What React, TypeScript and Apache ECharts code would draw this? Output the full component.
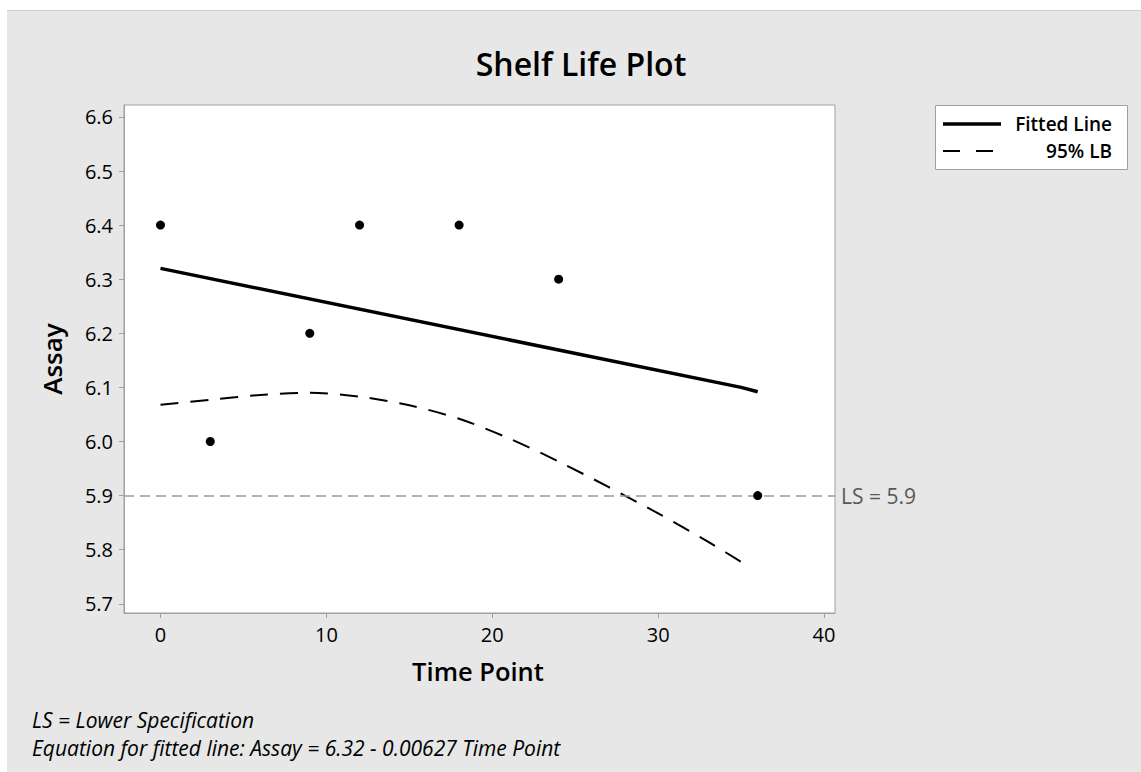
import React, { useEffect, useRef } from "react";
import * as echarts from "echarts";

const timePoints = [0, 3, 9, 12, 18, 24, 36];
const assayValues = [6.4, 6.0, 6.2, 6.4, 6.4, 6.3, 5.9];

const fitTime = [0, 35, 36];
const fitAssay = [6.32, 6.1, 6.092];

const lbTime = [0, 3, 6, 9, 12, 15, 18, 21, 24, 27, 30, 33, 35.5];
const lbAssay = [6.068, 6.077, 6.086, 6.09, 6.083, 6.067, 6.042, 6.006, 5.963, 5.916, 5.867, 5.815, 5.768];

const lowerSpec = 5.9;

const xTicks = [0, 10, 20, 30, 40];
const yTicks = [5.7, 5.8, 5.9, 6.0, 6.1, 6.2, 6.3, 6.4, 6.5, 6.6];

const FONT = "'Open Sans', 'Noto Sans', sans-serif";

export default function App() {
  const ref = useRef<HTMLDivElement>(null);

  useEffect(() => {
    if (!ref.current) return;
    const chart = echarts.init(ref.current, null, { renderer: "svg" });
    const axisGray = "#a0a0a0";
    chart.setOption({
      animation: false,
      backgroundColor: "#e6e7e6",
      textStyle: { fontFamily: FONT },
      grid: {
        left: 117,
        top: 94,
        width: 711,
        height: 508,
        show: true,
        backgroundColor: "#ffffff",
        borderColor: axisGray,
        borderWidth: 1,
      },
      xAxis: {
        type: "value",
        min: -2.2,
        max: 40.66,
        axisLine: { show: true, onZero: false, lineStyle: { color: axisGray } },
        axisTick: { show: true, length: 5, lineStyle: { color: axisGray }, customValues: xTicks },
        axisLabel: {
          customValues: xTicks,
          color: "#000",
          fontSize: 20,
          fontFamily: FONT,
          margin: 11,
        },
        splitLine: { show: false },
      },
      yAxis: {
        type: "value",
        min: 5.683,
        max: 6.622,
        axisLine: { show: true, onZero: false, lineStyle: { color: axisGray } },
        axisTick: { show: true, length: 5, lineStyle: { color: axisGray }, customValues: yTicks },
        axisLabel: {
          customValues: yTicks,
          color: "#000",
          fontSize: 20,
          fontFamily: FONT,
          margin: 11,
          formatter: (v: number) => v.toFixed(1),
        },
        splitLine: { show: false },
      },
      series: [
        {
          type: "line",
          name: "95% LB",
          data: lbTime.map((t, i) => [t, lbAssay[i]]),
          smooth: 0.3,
          showSymbol: false,
          lineStyle: { color: "#000", width: 2, type: [18, 12] },
          z: 3,
        },
        {
          type: "line",
          name: "Fitted Line",
          data: fitTime.map((t, i) => [t, fitAssay[i]]),
          showSymbol: false,
          lineStyle: { color: "#000", width: 3.5 },
          z: 4,
          markLine: {
            silent: true,
            symbol: "none",
            lineStyle: { color: "#9a9a9a", width: 1.5, type: [10, 6] },
            label: {
              show: true,
              position: "end",
              distance: 6,
              formatter: "LS = " + lowerSpec,
              color: "#595959",
              fontSize: 21,
              fontFamily: FONT,
            },
            data: [{ yAxis: lowerSpec }],
          },
        },
        {
          type: "scatter",
          name: "Assay",
          data: timePoints.map((t, i) => [t, assayValues[i]]),
          symbol: "circle",
          symbolSize: 9,
          itemStyle: { color: "#000", opacity: 1 },
          z: 5,
        },
      ],
      graphic: [
        {
          type: "text",
          x: 574,
          y: 52,
          style: {
            text: "Shelf Life Plot",
            fontSize: 32,
            fontWeight: 600,
            fontFamily: FONT,
            fill: "#000",
            align: "center",
            verticalAlign: "middle",
          },
        },
        {
          type: "text",
          x: 45,
          y: 348,
          rotation: Math.PI / 2,
          style: {
            text: "Assay",
            fontSize: 26,
            fontWeight: 600,
            fontFamily: FONT,
            fill: "#000",
            align: "center",
            verticalAlign: "middle",
          },
        },
        {
          type: "text",
          x: 471,
          y: 660,
          style: {
            text: "Time Point",
            fontSize: 25.5,
            fontWeight: 600,
            fontFamily: FONT,
            fill: "#000",
            align: "center",
            verticalAlign: "middle",
          },
        },
        {
          type: "rect",
          shape: { x: 928.5, y: 94.5, width: 192, height: 64 },
          style: { fill: "#fff", stroke: axisGray, lineWidth: 1 },
        },
        {
          type: "line",
          shape: { x1: 936, y1: 113, x2: 994, y2: 113 },
          style: { stroke: "#000", lineWidth: 3.5 },
        },
        {
          type: "line",
          shape: { x1: 936, y1: 140, x2: 990, y2: 140 },
          style: { stroke: "#000", lineWidth: 2, lineDash: [17, 16] },
        },
        {
          type: "text",
          x: 1105,
          y: 113,
          style: {
            text: "Fitted Line",
            fontSize: 19,
            fontWeight: 600,
            fontFamily: FONT,
            fill: "#000",
            align: "right",
            verticalAlign: "middle",
          },
        },
        {
          type: "text",
          x: 1105,
          y: 140,
          style: {
            text: "95% LB",
            fontSize: 19,
            fontWeight: 600,
            fontFamily: FONT,
            fill: "#000",
            align: "right",
            verticalAlign: "middle",
          },
        },
        {
          type: "text",
          x: 25,
          y: 709,
          style: {
            text: "LS = Lower Specification",
            fontSize: 21,
            fontStyle: "italic",
            fontFamily: FONT,
            fill: "#000",
            align: "left",
            verticalAlign: "middle",
          },
        },
        {
          type: "text",
          x: 25,
          y: 737,
          style: {
            text: "Equation for fitted line: Assay = 6.32 - 0.00627 Time Point",
            fontSize: 21,
            fontStyle: "italic",
            fontFamily: FONT,
            fill: "#000",
            align: "left",
            verticalAlign: "middle",
          },
        },
      ],
    });
    return () => chart.dispose();
  }, []);

  return (
    <div
      style={{
        position: "fixed",
        left: 0,
        top: 0,
        width: 1141,
        height: 772,
        background: "#ffffff",
        overflow: "hidden",
      }}
    >
      <div
        style={{
          position: "absolute",
          left: 7,
          top: 10,
          width: 1134,
          height: 1,
          background: "#cdcdcd",
        }}
      />
      <div
        ref={ref}
        style={{ position: "absolute", left: 7, top: 11, width: 1134, height: 761 }}
      />
    </div>
  );
}
